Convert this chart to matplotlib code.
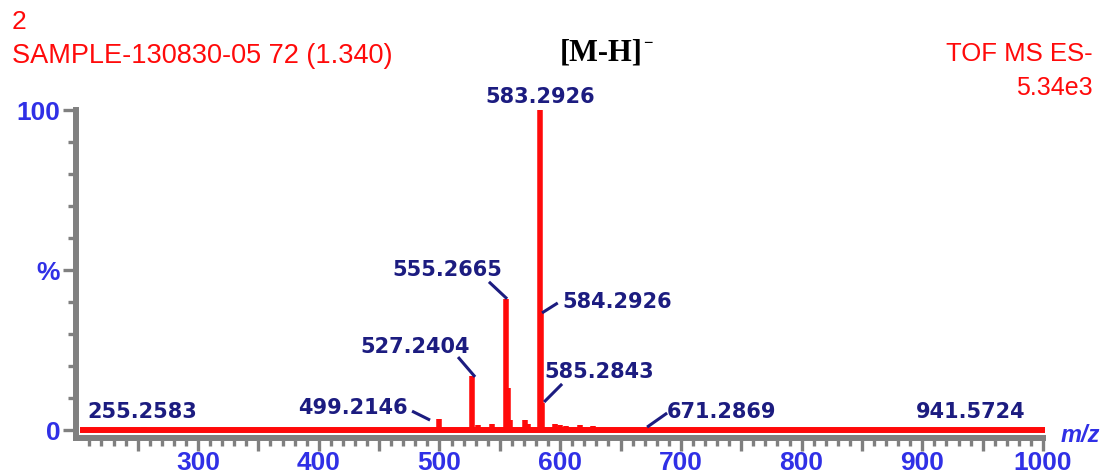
import numpy as np
import matplotlib
matplotlib.use("Agg")
import matplotlib.pyplot as plt
from matplotlib.ticker import FixedLocator, FixedFormatter

# spectrum sticks (m/z, relative intensity %)
mz = [255.26, 499.21, 527.24, 532.0, 543.5, 555.27, 557.0, 558.5, 571.0, 573.0,
      583.29, 584.29, 585.28, 596.0, 600.0, 605.0, 616.5, 620.0, 627.0, 671.29, 941.57]
intens = [0.8, 3.5, 17.0, 1.5, 1.8, 41.0, 13.0, 3.0, 3.0, 2.0,
          100.0, 37.0, 8.5, 1.8, 1.5, 1.2, 1.5, 1.0, 1.2, 0.4, 0.3]

# labelled peaks: text, label centre (m/z, %), connector start, connector end
peak_text = ["583.2926", "555.2665", "584.2926", "527.2404", "585.2843",
             "499.2146", "255.2583", "671.2869", "941.5724"]
peak_pos = [(583.3, 104.0), (506.7, 50.0), (647.0, 40.0), (479.8, 26.0), (632.0, 18.1),
            (428.0, 6.9), (253.6, 5.6), (734.0, 5.6), (940.4, 5.6)]
conn_from = [None, (541.0, 46.3), (598.0, 39.7), (515.4, 22.8), (601.6, 14.4),
             (477.3, 5.9), None, (688.6, 5.3), None]
conn_to = [None, (556.0, 41.0), (585.0, 36.6), (529.5, 16.6), (586.7, 8.75),
           (492.2, 3.1), None, (672.0, 0.9), None]

xmajor = list(range(250, 1001, 50))
xminor = [v for v in range(210, 1000, 10) if v % 50]
xlabels = [str(v) if v % 100 == 0 else "" for v in xmajor]
ymajor = [0, 50, 100]
ylabels = ["0", "%", "100"]
yminor = [10, 20, 30, 40, 60, 70, 80, 90]

W, H = 1104, 475
fig = plt.figure(figsize=(W / 100, H / 100), dpi=100)

def px(x, y):
    return x / W, 1 - y / H

ax = fig.add_axes([76 / W, (H - 437.5) / H, (1043 - 76) / W, (437.5 - 110) / H])
ax.set_xlim(198.9, 1000)
ax.set_ylim(-2.34, 100)

red = "#ff0a0a"
navy = "#1c1c80"
blue = "#3030e6"
grey = "#808080"

ax.hlines(0, 202.5, 1001.7, color=red, lw=4.3, clip_on=False, zorder=2)
ax.vlines(mz, 0, intens, color=red, lw=4.0, clip_on=False, zorder=3)

for t, (x, y), a, b in zip(peak_text, peak_pos, conn_from, conn_to):
    ax.text(x, y, t, ha="center", va="center", fontsize=15, fontweight="bold",
            color=navy, family="DejaVu Sans", clip_on=False, zorder=4)
    if a is not None:
        ax.plot([a[0], b[0]], [a[1], b[1]], color=navy, lw=2.2,
                solid_capstyle="butt", clip_on=False, zorder=4)

for s in ["top", "right"]:
    ax.spines[s].set_visible(False)
for s in ["left", "bottom"]:
    ax.spines[s].set_color(grey)
    ax.spines[s].set_linewidth(4.3)

ax.xaxis.set_major_locator(FixedLocator(xmajor))
ax.xaxis.set_major_formatter(FixedFormatter(xlabels))
ax.xaxis.set_minor_locator(FixedLocator(xminor))
ax.yaxis.set_major_locator(FixedLocator(ymajor))
ax.yaxis.set_major_formatter(FixedFormatter(ylabels))
ax.yaxis.set_minor_locator(FixedLocator(yminor))

ax.tick_params(axis="x", which="major", length=9, width=2.4, color=grey, pad=1,
               labelsize=19, labelcolor=blue)
ax.tick_params(axis="x", which="minor", length=5.4, width=2.4, color=grey)
ax.tick_params(axis="y", which="major", length=9.4, width=2.4, color=grey, pad=2,
               labelsize=19, labelcolor=blue)
ax.tick_params(axis="y", which="minor", length=5.8, width=2.4, color=grey)
for lab in ax.get_xticklabels() + ax.get_yticklabels():
    lab.set_family("Liberation Sans")
    lab.set_fontweight("bold")

# header
fig.text(*px(12, 22), "2", ha="left", va="center", fontsize=19,
         family="Liberation Sans", color=red)
fig.text(*px(12, 56), "SAMPLE-130830-05 72 (1.340)", ha="left", va="center",
         fontsize=19.5, family="Liberation Sans", color=red)
fig.text(*px(601, 53), "[M-H]", ha="center", va="center", fontsize=22,
         family="Liberation Serif", fontweight="bold", color="black")
fig.text(*px(648, 44), "\u2212", ha="center", va="center", fontsize=12,
         family="Liberation Serif", fontweight="bold", color="black")
fig.text(*px(1093, 54), "TOF MS ES-", ha="right", va="center", fontsize=18.5,
         family="Liberation Sans", color=red)
fig.text(*px(1093, 88), "5.34e3", ha="right", va="center", fontsize=18,
         family="Liberation Sans", color=red)
fig.text(*px(1080, 436), "m/z", ha="center", va="center", fontsize=17,
         family="Liberation Sans", fontweight="bold", fontstyle="italic", color=blue)

fig.savefig("out.png", dpi=100)
